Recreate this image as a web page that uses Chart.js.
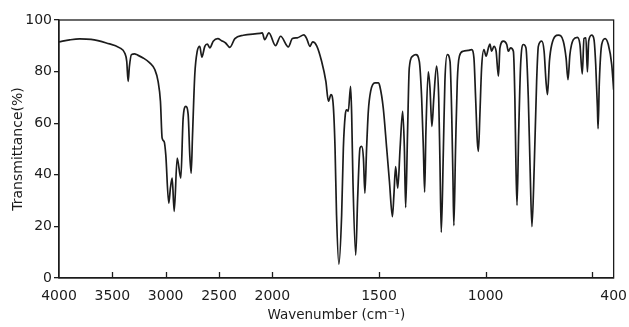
<!DOCTYPE html>
<html>
<head>
<meta charset="utf-8">
<script src="https://cdn.jsdelivr.net/npm/chart.js@4/dist/chart.umd.min.js"></script>
<style>
  html, body { margin: 0; padding: 0; background: #fff; }
  #wrap { width: 629px; height: 327px; }
</style>
</head>
<body>
<div id="wrap"><canvas id="ir"></canvas></div>
<script>
// IR spectrum (wavenumber in cm-1, transmittance in %)
const wavenumbers = [
  4000, 3900, 3807, 3700, 3556, 3431, 3384, 3365, 3352, 3340, 3321, 3290,
  3274, 3211, 3149, 3102, 3071, 3049, 3033, 3014, 2999, 2971, 2955, 2939,
  2920, 2892, 2858, 2836, 2811, 2789, 2774, 2761, 2748, 2727, 2704, 2680,
  2661, 2633, 2610, 2586, 2554, 2511, 2476, 2438, 2398, 2351, 2272, 2116,
  2094, 2072, 2032, 1985, 1961, 1925, 1906, 1883, 1852, 1839, 1824, 1811,
  1792, 1769, 1749, 1737, 1725, 1714, 1706, 1699, 1688, 1675, 1667, 1658,
  1652, 1644, 1633, 1628, 1622, 1609, 1600, 1589, 1581, 1573, 1566, 1558,
  1550, 1539, 1519, 1503, 1496, 1480, 1464, 1451, 1437, 1430, 1422, 1412,
  1401, 1389, 1381, 1375, 1366, 1358, 1342, 1327, 1311, 1300, 1292, 1286,
  1280, 1269, 1261, 1252, 1243, 1230, 1220, 1214, 1208, 1198, 1191, 1180,
  1167, 1159, 1153, 1149, 1141, 1133, 1123, 1105, 1081, 1066, 1055, 1047,
  1039, 1034, 1027, 1019, 1008, 998, 987, 980, 972, 961, 951, 940,
  933, 917, 901, 894, 883, 870, 863, 858, 853, 845, 836, 823,
  811, 800, 792, 783, 772, 761, 753, 737, 726, 717, 710, 701,
  690, 659, 636, 623, 614, 605, 589, 570, 558, 547, 539, 530,
  523, 517, 503, 492, 484, 476, 473, 467, 456, 440, 425, 409, 400
];
const transmittance = [
  91.5, 92.3, 92.7, 92.5, 91.1, 89.2, 87.2, 84.0, 76.2, 82.0, 86.6, 86.9,
  86.6, 85.3, 83.4, 80.8, 76.2, 68.5, 54.2, 52.9, 47.8, 29.0, 35.0, 38.7,
  25.8, 46.5, 38.7, 62.0, 66.5, 63.3, 47.8, 40.6, 55.5, 78.8, 87.9, 89.8,
  85.6, 89.8, 90.7, 89.2, 91.8, 92.8, 92.0, 91.1, 89.4, 92.8, 94.1, 94.8,
  95.0, 92.4, 95.0, 90.1, 93.7, 89.6, 92.8, 93.1, 94.2, 92.8, 89.8, 91.5,
  90.0, 84.0, 76.2, 68.5, 71.1, 66.5, 50.4, 24.5, 5.3, 24.5, 50.4, 63.3,
  65.2, 64.6, 74.3, 63.3, 37.4, 8.9, 30.9, 50.4, 51.0, 46.5, 32.9, 50.4,
  64.6, 72.4, 75.6, 75.6, 74.3, 65.9, 50.4, 37.4, 23.8, 32.2, 43.2, 34.8,
  50.4, 64.6, 50.4, 27.3, 56.8, 81.4, 86.0, 86.6, 84.0, 69.8, 50.4, 33.3,
  56.8, 79.9, 73.7, 58.8, 69.8, 82.1, 69.8, 43.9, 17.7, 50.4, 76.2, 86.6,
  84.0, 63.3, 37.4, 20.3, 50.4, 76.2, 86.0, 87.9, 88.2, 88.5, 85.3, 69.8,
  52.9, 49.1, 63.3, 81.4, 88.5, 86.0, 89.2, 90.7, 87.9, 89.8, 87.9, 78.2,
  89.2, 91.8, 90.5, 87.9, 89.2, 87.9, 69.8, 43.9, 28.2, 56.8, 82.7, 90.5,
  89.2, 69.8, 43.9, 19.9, 43.9, 76.2, 89.8, 91.8, 87.9, 76.2, 71.1, 84.0,
  90.5, 94.1, 91.8, 85.3, 76.9, 86.6, 92.4, 93.3, 90.5, 79.1, 92.8, 93.1,
  79.9, 91.8, 94.1, 92.4, 82.7, 65.9, 57.9, 76.2, 90.5, 92.8, 90.5, 82.7, 73.0
];
const xTickLabels = [4000, 3500, 3000, 2500, 2000, 1500, 1000, 500, 400];
const yTicks = [0, 20, 40, 60, 80, 100];

// the chart paper doubles its scale below 2000 cm-1
function toAxis(w) { return w >= 2000 ? w : 2 * w - 2000; }
function fromAxis(v) { return v >= 2000 ? v : (v + 2000) / 2; }

const points = wavenumbers.map((w, i) => ({ x: toAxis(w), y: transmittance[i] }));
const FONT = 'DejaVu Sans';
const INK = '#1c1c1c';

// box round the plot and the inward ticks on the bottom axis
const frame = {
  id: 'frame',
  afterDraw(chart) {
    const { ctx, chartArea: a, scales } = chart;
    ctx.save();
    ctx.strokeStyle = INK;
    ctx.lineWidth = 1.3;
    ctx.strokeRect(a.left, a.top, a.right - a.left, a.bottom - a.top);
    xTickLabels.slice(1, -1).forEach(w => {
      const px = Math.round(scales.x.getPixelForValue(toAxis(w))) + 0.5;
      ctx.beginPath();
      ctx.moveTo(px, a.bottom);
      ctx.lineTo(px, a.bottom - 6);
      ctx.stroke();
    });
    ctx.restore();
  }
};

new Chart(document.getElementById('ir'), {
  type: 'line',
  data: {
    datasets: [{
      data: points,
      borderColor: INK,
      borderWidth: 1.7,
      pointRadius: 0,
      fill: false,
      cubicInterpolationMode: 'monotone'
    }]
  },
  options: {
    responsive: true,
    maintainAspectRatio: false,
    animation: false,
    layout: { padding: { top: 20, right: 14, left: 10, bottom: 3 } },
    plugins: { legend: { display: false }, tooltip: { enabled: false } },
    scales: {
      x: {
        type: 'linear',
        reverse: true,
        min: toAxis(400),
        max: 4000,
        afterBuildTicks: s => { s.ticks = xTickLabels.map(w => ({ value: toAxis(w) })); },
        afterFit: s => { s.height = 46; },
        grid: { display: false },
        border: { display: true, color: INK, width: 1.3 },
        ticks: {
          autoSkip: false,
          maxRotation: 0,
          padding: 2,
          color: INK,
          font: { family: FONT, size: 14 },
          callback: v => { const w = fromAxis(v); return w === 500 ? '' : String(w); }
        },
        title: {
          display: true,
          text: 'Wavenumber (cm\u207B\u00B9)',
          color: INK,
          font: { family: FONT, size: 13.5 },
          padding: { top: 7, bottom: 0 }
        }
      },
      y: {
        min: 0,
        max: 100,
        afterBuildTicks: s => { s.ticks = yTicks.map(v => ({ value: v })); },
        afterFit: s => { s.width = 49; },
        grid: { drawOnChartArea: false, drawTicks: true, tickLength: 5, color: INK, lineWidth: 1.3 },
        border: { display: true, color: INK, width: 1.3 },
        ticks: { padding: 2, color: INK, font: { family: FONT, size: 14 } },
        title: {
          display: true,
          text: 'Transmittance(%)',
          color: INK,
          font: { family: FONT, size: 14 },
          padding: 0
        }
      }
    }
  },
  plugins: [frame]
});
</script>
</body>
</html>
